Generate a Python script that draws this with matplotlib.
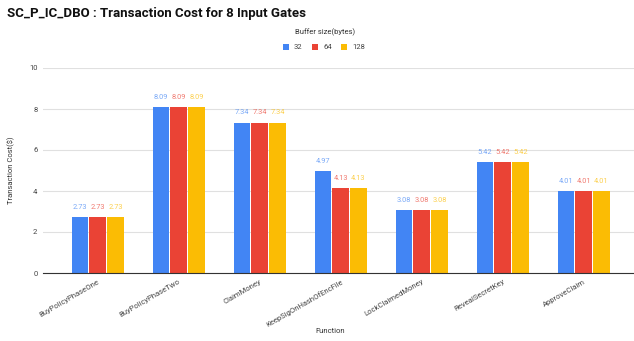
import numpy as np
import matplotlib
matplotlib.use("Agg")
import matplotlib.pyplot as plt

functions = ["BuyPolicyPhaseOne", "BuyPolicyPhaseTwo", "ClaimMoney",
             "KeepSigOnHashOfEncFile", "LockClaimedMoney", "RevealSecretKey",
             "ApproveClaim"]
buf_32 = [2.73, 8.09, 7.34, 4.97, 3.08, 5.42, 4.01]
buf_64 = [2.73, 8.09, 7.34, 4.13, 3.08, 5.42, 4.01]
buf_128 = [2.73, 8.09, 7.34, 4.13, 3.08, 5.42, 4.01]
series_names = ["32", "64", "128"]
colors = ["#4285F4", "#EA4335", "#FBBC04"]

plt.rcParams["font.family"] = ["Roboto", "DejaVu Sans"]

fig = plt.figure(figsize=(6.34, 3.41), dpi=100)
ax = fig.add_axes([43 / 634, 1 - 273 / 341, 591 / 634, 205 / 341])

x = np.arange(len(functions))
w = 0.198
step = 0.222
for i, (vals, name, c) in enumerate(zip([buf_32, buf_64, buf_128], series_names, colors)):
    pos = x + (i - 1) * step
    bars = ax.bar(pos, vals, width=w, color=c, label=name, zorder=3)
    for b, v in zip(bars, vals):
        ax.text(b.get_x() + b.get_width() / 2, v + 0.3, f"{v:.2f}",
                ha="center", va="bottom", fontsize=5.3, color=c, alpha=0.7)

ax.set_ylim(0, 10)
ax.set_yticks([0, 2, 4, 6, 8, 10])
ax.set_xlim(-0.673, -0.673 + 591 / 81)
ax.set_xticks(x)
ax.set_xticklabels(functions, rotation=30, ha="right", rotation_mode="anchor",
                   fontsize=5.5, color="#444444")
ax.tick_params(axis="both", length=0, labelsize=5.5, labelcolor="#444444", pad=4)
ax.grid(axis="y", color="#e0e0e0", linewidth=0.8, zorder=0)
for s in ["top", "right", "left"]:
    ax.spines[s].set_visible(False)
ax.spines["bottom"].set_color("#333333")
ax.spines["bottom"].set_linewidth(0.8)
ax.spines["bottom"].set_zorder(4)

ax.set_ylabel("Transaction Cost($)", fontsize=5.5, color="#333333", labelpad=10)
fig.text(330 / 634, 1 - 331 / 341, "Function", ha="center", va="center",
         fontsize=5.5, color="#333333")

fig.text(7 / 634, 1 - 14 / 341, "SC_P_IC_DBO : Transaction Cost for 8 Input Gates",
         ha="left", va="center", fontsize=9.5, fontweight="bold", color="#111111")
fig.text(325 / 634, 1 - 32 / 341, "Buffer size(bytes)", ha="center", va="center",
         fontsize=5.5, color="#333333")

handles, labels = ax.get_legend_handles_labels()
fig.legend(handles, labels, loc="center", bbox_to_anchor=(324 / 634, 1 - 47 / 341),
           ncol=3, frameon=False, fontsize=5.5, handlelength=0.8, handleheight=0.8,
           columnspacing=1.2, handletextpad=0.7, labelcolor="#444444")

fig.savefig("out.png", dpi=100)
